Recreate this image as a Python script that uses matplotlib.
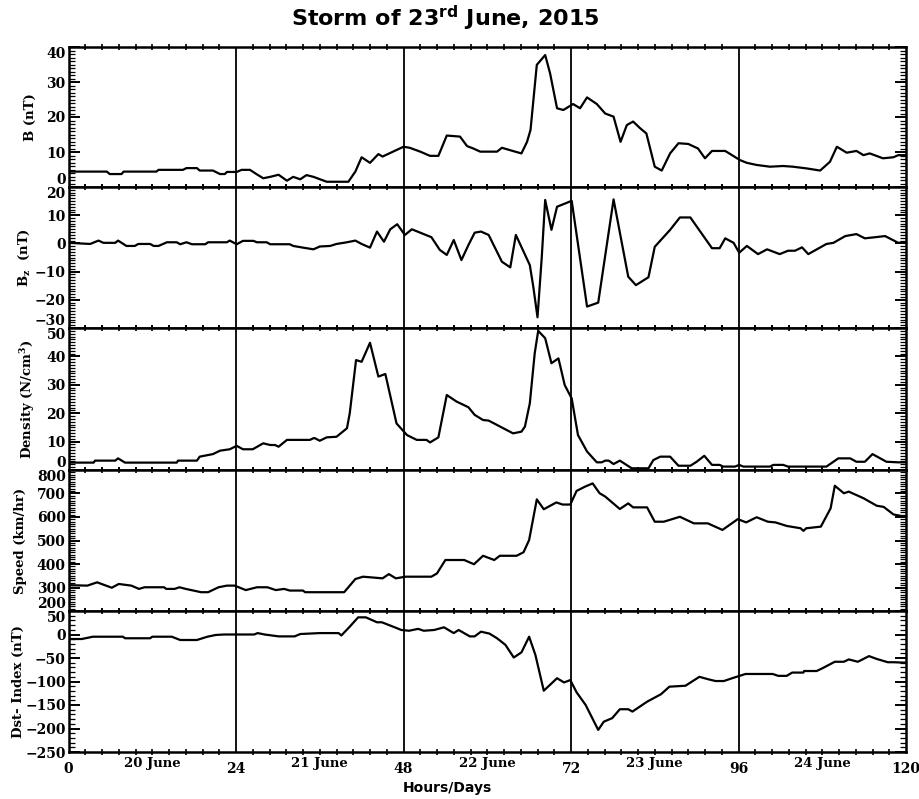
import matplotlib
matplotlib.use('Agg')
import matplotlib.pyplot as plt
from matplotlib.ticker import MultipleLocator

# ---- data (hours from 00 UT 20 June) ----
b_hr = [0, 5.5, 5.9, 7.6, 7.9, 12.6, 12.9, 16.4, 16.9, 18.4, 18.8, 20.7, 21.7, 22.4, 22.7,
        24.1, 24.8, 26.0, 27.0, 27.9, 28.9, 30.1, 31.3, 32.2, 33.2, 34.1, 35.1, 37.0, 40.1,
        41.1, 42.0, 43.2, 44.4, 45.0, 46.5, 48.0, 48.9, 50.4, 51.8, 53.0, 54.2, 56.1, 57.1,
        58.0, 59.0, 61.4, 62.1, 62.8, 64.0, 64.9, 65.7, 66.2, 67.1, 68.3, 69.0, 70.0, 70.9,
        72.3, 73.3, 74.3, 75.7, 76.9, 78.1, 79.1, 80.0, 80.9, 81.9, 82.8, 84.0, 85.0, 86.2,
        87.4, 88.8, 90.2, 91.2, 92.2, 94.1, 96.2, 97.2, 98.6, 100.5, 102.4, 103.8, 105.8,
        107.7, 109.1, 110.1, 111.5, 112.9, 113.9, 114.8, 116.7, 118.2, 118.9, 120]
b_val = [4.4, 4.4, 3.7, 3.7, 4.4, 4.4, 4.9, 4.9, 5.4, 5.4, 4.7, 4.7, 3.7, 3.7, 4.3,
         4.3, 4.9, 4.9, 3.6, 2.5, 2.9, 3.5, 1.8, 2.9, 2.2, 3.4, 2.9, 1.5, 1.5,
         4.4, 8.5, 6.9, 9.4, 8.7, 10.1, 11.5, 11.2, 10.1, 8.9, 8.9, 14.7, 14.4, 11.7,
         11.0, 10.1, 10.1, 11.2, 10.8, 10.1, 9.6, 12.9, 16.3, 34.9, 37.7, 32.5, 22.5, 22.0,
         23.7, 22.5, 25.6, 23.7, 21.0, 20.1, 12.9, 17.7, 18.7, 16.8, 15.3, 5.8, 4.7, 9.6,
         12.5, 12.3, 11.0, 8.2, 10.3, 10.3, 7.7, 6.9, 6.3, 5.8, 6.0, 5.8, 5.3,
         4.7, 7.2, 11.5, 9.8, 10.3, 9.1, 9.6, 8.2, 8.5, 9.1, 9.1]

bz_hr = [0, 3.1, 4.3, 5.0, 6.7, 7.1, 8.3, 9.5, 10.0, 11.7, 12.2, 12.9, 14.1, 15.5, 16.0,
         16.9, 17.7, 19.6, 20.0, 22.7, 23.1, 24.1, 25.0, 26.5, 27.0, 28.4, 28.9, 31.7, 32.2,
         33.6, 35.1, 36.0, 37.5, 38.4, 39.9, 41.1, 42.0, 43.2, 44.2, 45.2, 46.1, 47.1, 48.2,
         49.2, 50.4, 52.0, 53.2, 54.2, 55.2, 56.3, 57.3, 58.2, 59.1, 60.2, 62.1, 63.3, 64.1,
         66.1, 66.6, 67.2, 67.8, 68.3, 69.2, 70.0, 72.1, 74.3, 75.9, 78.1, 80.2, 81.3, 83.1,
         84.0, 86.2, 87.6, 89.1, 92.2, 93.3, 94.1, 95.3, 96.1, 97.2, 98.8, 100.1, 101.9,
         103.1, 104.1, 105.1, 106.0, 108.6, 109.6, 111.3, 112.9, 114.1, 115.6, 117.0, 118.9, 120]
bz_val = [0.2, -0.2, 1.0, 0.2, 0.2, 1.0, -0.9, -0.9, -0.2, -0.2, -0.9, -0.9, 0.4, 0.4, -0.3,
          0.4, -0.3, -0.3, 0.4, 0.4, 1.0, -0.3, 0.9, 0.9, 0.4, 0.4, -0.3, -0.3, -0.9,
          -1.5, -2.1, -1.1, -0.9, -0.2, 0.4, 1.0, -0.2, -1.5, 4.2, 0.6, 5.0, 6.8, 3.0,
          5.0, 3.8, 2.2, -2.3, -4.1, 1.2, -5.9, -0.6, 3.8, 4.2, 3.0, -6.5, -8.5, 3.0,
          -7.7, -15.4, -26.2, -5.3, 15.4, 4.8, 13.0, 15.1, -22.4, -21.0, 15.6, -11.8, -14.8, -12.0,
          -1.2, 4.8, 9.2, 9.2, -1.7, -1.7, 1.8, 0.2, -3.3, -0.9, -3.8, -2.1, -3.8,
          -2.6, -2.6, -1.4, -3.8, -0.2, 0.2, 2.6, 3.3, 1.8, 2.2, 2.6, 0.2, 0.5]

n_hr = [0, 3.6, 3.8, 6.7, 7.1, 8.1, 15.5, 15.7, 18.4, 18.8, 20.7, 21.7, 23.1, 24.1, 25.0,
        26.4, 27.9, 28.9, 29.6, 30.1, 31.3, 34.6, 35.1, 35.3, 36.0, 37.0, 38.4, 39.9, 40.3,
        41.2, 42.0, 43.2, 44.4, 45.4, 47.0, 48.5, 49.9, 51.3, 51.8, 53.0, 54.2, 55.6, 57.3,
        58.2, 59.4, 60.2, 63.7, 64.9, 65.4, 66.1, 66.8, 67.3, 68.3, 69.2, 70.2, 71.1, 72.1,
        73.0, 74.3, 75.7, 76.4, 76.9, 77.4, 78.1, 79.0, 80.7, 83.1, 83.8, 84.8, 86.2, 87.4,
        89.1, 90.0, 91.1, 92.2, 93.3, 93.8, 95.5, 96.1, 96.7, 100.5, 101.0, 102.4, 103.1,
        108.6, 110.3, 112.0, 112.9, 114.1, 115.2, 117.2, 118.9, 120]
n_val = [2.6, 2.6, 3.3, 3.3, 4.1, 2.6, 2.6, 3.3, 3.3, 4.7, 5.6, 6.8, 7.3, 8.5, 7.3,
         7.3, 9.4, 8.8, 8.8, 8.2, 10.6, 10.6, 11.2, 11.2, 10.3, 11.5, 11.7, 14.7, 20.0,
         38.7, 38.1, 44.8, 32.9, 33.8, 16.4, 12.3, 10.6, 10.6, 9.7, 11.5, 26.4, 24.1, 22.1,
         19.4, 17.6, 17.4, 12.9, 13.5, 15.3, 23.5, 41.1, 49.0, 46.4, 37.6, 39.3, 29.9, 25.2,
         12.3, 6.5, 2.7, 2.7, 3.3, 3.3, 2.1, 3.3, 0.6, 0.6, 3.5, 4.7, 4.7, 1.5,
         1.5, 2.9, 5.0, 1.8, 1.8, 1.2, 1.2, 1.8, 1.2, 1.2, 1.8, 1.8, 1.2,
         1.2, 4.1, 4.1, 2.9, 2.9, 5.6, 2.9, 2.7, 2.7]

v_hr = [0, 2.7, 4.1, 6.2, 7.2, 9.0, 10.1, 10.9, 13.7, 14.0, 15.2, 15.9, 16.8, 19.0, 20.0,
        21.5, 22.7, 23.8, 25.4, 27.0, 28.5, 29.7, 30.9, 31.7, 33.6, 33.9, 39.5, 41.1, 42.2,
        45.0, 45.9, 46.9, 48.3, 52.0, 52.8, 54.0, 56.7, 58.1, 59.4, 61.0, 61.8, 64.2, 65.2,
        66.0, 67.1, 68.1, 69.9, 70.8, 71.9, 72.8, 74.0, 75.1, 76.1, 76.9, 79.0, 80.2, 80.9,
        82.9, 84.0, 85.3, 87.6, 89.6, 91.6, 93.7, 95.9, 97.1, 98.6, 100.2, 101.3, 102.9,
        104.9, 105.3, 105.7, 107.8, 109.2, 109.8, 111.1, 111.8, 113.9, 115.8, 116.8, 118.2, 120]
v_val = [310, 308, 322, 299, 315, 308, 294, 301, 301, 294, 294, 301, 294, 280, 280,
         301, 308, 308, 289, 301, 301, 289, 294, 287, 287, 280, 280, 336, 346,
         339, 357, 339, 346, 346, 360, 417, 417, 399, 435, 417, 435, 435, 450,
         502, 675, 633, 662, 653, 653, 711, 729, 743, 701, 687, 634, 658, 641,
         641, 580, 580, 601, 573, 573, 545, 591, 577, 599, 580, 577, 562,
         552, 541, 552, 559, 637, 733, 701, 708, 680, 648, 643, 611, 600]

dst_hr = [0, 1.9, 3.5, 7.8, 8.1, 11.7, 12.0, 14.8, 16.0, 18.4, 19.9, 21.1, 22.3, 26.6, 27.1,
          28.1, 30.1, 32.4, 33.2, 36.0, 38.7, 39.1, 40.3, 41.5, 42.6, 44.2, 44.9, 46.5, 47.7,
          48.8, 50.1, 50.9, 52.4, 53.8, 55.2, 55.9, 57.5, 58.2, 59.1, 60.3, 61.4, 62.6, 63.8,
          64.9, 66.0, 66.9, 68.1, 70.0, 71.0, 71.9, 72.8, 74.1, 75.9, 76.7, 77.9, 79.0, 80.2,
          80.8, 82.9, 84.9, 86.1, 88.4, 90.4, 91.6, 92.7, 93.9, 95.1, 97.0, 100.9, 101.7,
          102.9, 103.7, 105.3, 105.4, 107.2, 108.0, 109.8, 111.1, 111.8, 113.1, 114.7, 115.8,
          117.4, 118.2, 120]
dst_val = [-9.6, -9.6, -4.7, -4.7, -8, -8, -4.7, -4.7, -11.7, -11.7, -4.7, -1, 0, 0, 3,
           0, -4, -4, 1, 3, 3, -2, 16.7, 36.5, 36.5, 26, 26, 16.7, 9.6,
           8, 12, 8, 9.6, 15.3, 3, 9.6, -4, -4, 6, 2, -8, -22, -49,
           -38, -4.7, -43.6, -119.6, -93, -102, -97, -123, -150, -203, -185.5, -178, -159, -159,
           -164, -143, -127, -111, -109, -90, -95, -99, -99, -93, -84, -84, -88,
           -88, -81, -81, -77.7, -77.7, -72, -58, -58, -53, -58, -46, -52,
           -59, -59, -60]

day_pos = [12, 36, 60, 84, 108]
day_names = ['20 June', '21 June', '22 June', '23 June', '24 June']
hour_ticks = [0, 24, 48, 72, 96, 120]

# (x, y, ylim, major, minor, label, label x in axes coords)
panels = [
    (b_hr, b_val, (0, 40), 10, 1, 'B (nT)', -0.038),
    (bz_hr, bz_val, (-30, 20), 10, 1, r'B$_\mathbf{z}$  (nT)', -0.043),
    (n_hr, n_val, (0, 50), 10, 1, r'Density (N/cm$^\mathbf{3}$)', -0.038),
    (v_hr, v_val, (200, 800), 100, 10, 'Speed (km/hr)', -0.049),
    (dst_hr, dst_val, (-250, 50), 50, 10, 'Dst- Index (nT)', -0.052),
]

W, H = 919, 799
x0, x1 = 68.5, 906
edges = [47, 187, 328, 470, 611, 752]

plt.rcParams['font.family'] = 'DejaVu Serif'
plt.rcParams['font.weight'] = 'bold'
plt.rcParams['mathtext.fontset'] = 'dejavuserif'
plt.rcParams['mathtext.default'] = 'bf'

fig = plt.figure(figsize=(W / 100, H / 100), dpi=100)

for i, (hx, vy, ylim, maj, mnr, lab, lx) in enumerate(panels):
    top, bot = edges[i], edges[i + 1]
    ax = fig.add_axes([x0 / W, 1 - bot / H, (x1 - x0) / W, (bot - top) / H])
    ax.plot(hx, vy, color='black', lw=1.6)
    for h in hour_ticks[1:-1]:
        ax.axvline(h, color='black', lw=1.3)
    ax.set_xlim(0, 120)
    ax.set_ylim(*ylim)
    ax.set_yticks(list(range(ylim[0], ylim[1] + 1, maj)))
    ax.yaxis.set_minor_locator(MultipleLocator(mnr))
    ax.set_xticks(hour_ticks)
    ax.xaxis.set_minor_locator(MultipleLocator(2.4))
    ax.tick_params(axis='y', which='major', direction='in', length=8, width=1.4,
                   left=True, right=True, labelsize=10, pad=2)
    ax.tick_params(axis='y', which='minor', direction='in', length=4, width=0.9,
                   left=True, right=True)
    ax.tick_params(axis='x', which='major', length=0, pad=7, labelsize=10)
    ax.tick_params(axis='x', which='minor', direction='inout', length=4, width=1.2,
                   top=True, bottom=True)
    # keep the end labels inside the panel, as in the original
    yt = ax.yaxis.get_major_ticks()
    yt[-1].label1.set_verticalalignment('top')
    if i < len(panels) - 1:
        yt[0].label1.set_verticalalignment('bottom')
    for s in ax.spines.values():
        s.set_linewidth(1.8)
    ax.set_ylabel(lab, fontsize=9.5, fontweight='bold')
    ax.yaxis.set_label_coords(lx, 0.5)
    if i < len(panels) - 1:
        ax.set_xticklabels([])
    else:
        for d, name in zip(day_pos, day_names):
            ax.text(d, -0.035, name, transform=ax.get_xaxis_transform(),
                    ha='center', va='top', fontsize=9.5, fontweight='bold')

fig.text(447 / W, 1 - 788 / H, 'Hours/Days', ha='center', va='center',
         family='DejaVu Sans', fontweight='bold', fontsize=10)
fig.text(0.484, 1 - 18 / H, r'Storm of 23$^{\mathsf{rd}}$ June, 2015', ha='center', va='center',
         family='DejaVu Sans', fontweight='bold', fontsize=16)

fig.savefig('out.png', dpi=100)
